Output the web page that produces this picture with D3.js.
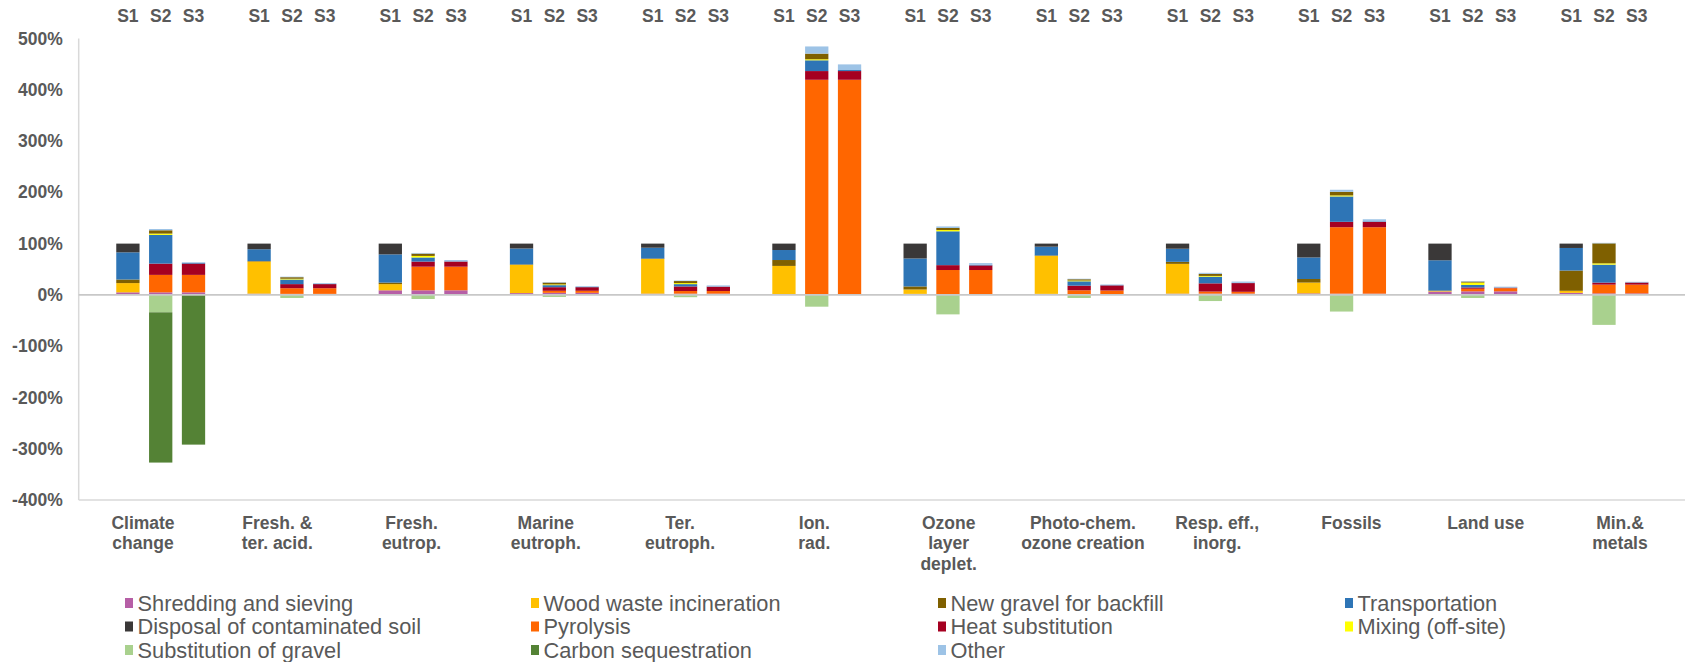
<!DOCTYPE html>
<html>
<head>
<meta charset="utf-8">
<script src="https://cdn.jsdelivr.net/npm/d3@7"></script>
<style>
  html, body { margin: 0; padding: 0; background: #fff; }
  svg { display: block; }
  text { font-family: "Liberation Sans", Arial, sans-serif; fill: #595959; }
</style>
</head>
<body>
<svg id="chart" width="1685" height="662"></svg>
<script>
// Impact categories (two or three label lines each)
const categories = [
  ["Climate", "change"],
  ["Fresh. &", "ter. acid."],
  ["Fresh.", "eutrop."],
  ["Marine", "eutroph."],
  ["Ter.", "eutroph."],
  ["Ion.", "rad."],
  ["Ozone", "layer", "deplet."],
  ["Photo-chem.", "ozone creation"],
  ["Resp. eff.,", "inorg."],
  ["Fossils"],
  ["Land use"],
  ["Min.&", "metals"]
];
const scenarios = ["S1", "S2", "S3"];
const yTicks = [-400, -300, -200, -100, 0, 100, 200, 300, 400, 500];

// Contributions in % of S1, per category as [S1, S2, S3]
const shredding = [[5,5,5],[2.5,2,2],[9,9,9],[3.5,4,4],[2.5,2.5,2.5],[0.5,0.5,0.5],[2,1.5,1.5],[2,1.5,1.5],[2.5,2.5,2.5],[3,2.5,2.5],[6.5,7,7],[4,3,3]];
const woodWaste = [[18,0,0],[62.5,0,0],[12,0,0],[55,0,0],[67.5,0,0],[56,0,0],[8.5,0,0],[74,0,0],[58,0,0],[21,0,0],[1,0,0],[4,0,0]];
const newGravel = [[7,6.5,0],[1,3,0],[3,4.5,0],[1,3.5,0],[1,4,0],[11.5,11,0],[6,4,0],[1,2.5,0],[4,4,0],[7,7,0],[1,2,0],[39.5,39,0]];
const transport = [[53,56,1.5],[23,9,0.5],[55,8,0.5],[31,4,0.5],[21,4.5,0.5],[19.5,21,2],[54.5,66,1],[17,8.5,0.5],[25.5,13,0.5],[42,49.5,1],[59,5,0.5],[44,35,0.5]];
const disposal = [[17,0,0],[11,0,0],[21,0,0],[9.5,0,0],[8,0,0],[12.5,0,0],[29,0,0],[6,0,0],[10,0,0],[27,0,0],[32.5,0,0],[8.5,0,0]];
const pyrolysis = [[0,34,34],[0,11,11],[0,46,46],[0,4,4],[0,5,5],[0,419,419],[0,47,47],[0,7.5,7],[0,4,3.5],[0,129.5,129.5],[0,5,6],[0,17,17]];
const heatSub = [[0,22,22],[0,8,8],[0,10,10],[0,7,7],[0,9,8.5],[0,17,17],[0,9.5,9],[0,9,10],[0,16,17],[0,10.5,10.5],[0,2.5,1],[0,4,4]];
const mixing = [[0,2.5,0],[0,1.5,0],[0,3,0],[0,1.5,0],[0,2,0],[0,2,0],[0,2.5,0],[0,1.5,0],[0,1.5,0],[0,2,0],[0,4.5,0],[0,2.5,0]];
const gravelSub = [[0,-34,0],[0,-6,0],[0,-8,0],[0,-4,0],[0,-4.5,0],[0,-23,0],[0,-38,0],[0,-6,0],[0,-12,0],[0,-32.5,0],[0,-6,0],[0,-58.5,0]];
const carbonSeq = [[0,-293,-292],[0,0,0],[0,0,0],[0,0,0],[0,0,0],[0,0,0],[0,0,0],[0,0,0],[0,0,0],[0,0,0],[0,0,0],[0,0,0]];
const other = [[0,2.5,1.2],[0,1,1.5],[0,1.3,2.5],[0,1,1.5],[0,1,2],[0,14,11],[0,3,3.5],[0,1,1.3],[0,2,2.5],[0,4,4],[0,1,1.5],[0,1,1]];

const series = [
  { key: "shredding", name: "Shredding and sieving",        color: "#B65FA6", values: shredding },
  { key: "woodWaste", name: "Wood waste incineration",      color: "#FFC000", values: woodWaste },
  { key: "newGravel", name: "New gravel for backfill",      color: "#7F6000", values: newGravel },
  { key: "transport", name: "Transportation",               color: "#2E75B6", values: transport },
  { key: "disposal",  name: "Disposal of contaminated soil", color: "#3A3838", values: disposal },
  { key: "pyrolysis", name: "Pyrolysis",                    color: "#FF6600", values: pyrolysis },
  { key: "heatSub",   name: "Heat substitution",            color: "#A50021", values: heatSub },
  { key: "mixing",    name: "Mixing (off-site)",            color: "#FFFF00", values: mixing },
  { key: "gravelSub", name: "Substitution of gravel",       color: "#A9D18E", values: gravelSub },
  { key: "carbonSeq", name: "Carbon sequestration",         color: "#548235", values: carbonSeq },
  { key: "other",     name: "Other",                        color: "#9DC3E6", values: other }
];

// Stacking order of the processes inside each scenario bar
const stackOrder = {
  S1: ["shredding", "woodWaste", "newGravel", "transport", "disposal", "other", "gravelSub", "carbonSeq"],
  S2: ["shredding", "pyrolysis", "heatSub", "transport", "mixing", "newGravel", "other", "gravelSub", "carbonSeq"],
  S3: ["shredding", "pyrolysis", "heatSub", "transport", "mixing", "newGravel", "other", "gravelSub", "carbonSeq"]
};

const colorOf = Object.fromEntries(series.map(s => [s.key, s.color]));

const svg = d3.select("#chart");
const plot = { left: 78.7, right: 1686, top: 38.5, bottom: 500 };

// One slot per bar, with an empty slot leading each category group
const slots = [];
categories.forEach((c, i) => {
  slots.push(`${i}-gap`);
  scenarios.forEach(s => slots.push(`${i}-${s}`));
});
slots.push("end-gap");

const x = d3.scaleBand()
  .domain(slots)
  .range([plot.left, plot.right])
  .paddingInner(0.29)
  .paddingOuter(0.145);

const y = d3.scaleLinear()
  .domain([-400, 500])
  .range([plot.bottom, plot.top]);

// Category label positions along the bottom
const xCat = d3.scalePoint()
  .domain(d3.range(categories.length))
  .range([143, 1620]);

// Rows: one per category × scenario
const rows = [];
categories.forEach((c, i) => {
  scenarios.forEach((s, j) => {
    const row = { cat: i, scen: s, slot: `${i}-${s}` };
    series.forEach(se => { row[se.key] = se.values[i][j]; });
    rows.push(row);
  });
});

// Axis frame: vertical axis line and bottom border
svg.append("line")
  .attr("x1", plot.left).attr("x2", plot.left)
  .attr("y1", plot.top).attr("y2", plot.bottom)
  .attr("stroke", "#D9D9D9").attr("stroke-width", 1.5);
svg.append("line")
  .attr("x1", plot.left).attr("x2", plot.right)
  .attr("y1", plot.bottom).attr("y2", plot.bottom)
  .attr("stroke", "#D9D9D9").attr("stroke-width", 1.5);

// Stacked bars, per scenario
const barsG = svg.append("g");
scenarios.forEach(s => {
  const sub = rows.filter(r => r.scen === s);
  const stacked = d3.stack()
    .keys(stackOrder[s])
    .offset(d3.stackOffsetDiverging)(sub);
  stacked.forEach(layer => {
    barsG.append("g")
      .attr("fill", colorOf[layer.key])
      .selectAll("rect")
      .data(layer.filter(d => d[1] !== d[0]))
      .join("rect")
      .attr("x", d => x(d.data.slot))
      .attr("width", x.bandwidth())
      .attr("y", d => y(Math.max(d[0], d[1])))
      .attr("height", d => Math.abs(y(d[0]) - y(d[1])));
  });
});

// Zero line
svg.append("line")
  .attr("x1", plot.left).attr("x2", plot.right)
  .attr("y1", y(0)).attr("y2", y(0))
  .attr("stroke", "#C8C8C8").attr("stroke-width", 1.8);

// Y axis labels
const yAxis = d3.axisLeft(y)
  .tickValues(yTicks)
  .tickFormat(d => d + "%")
  .tickSize(0)
  .tickPadding(16);
const yG = svg.append("g")
  .attr("transform", `translate(${plot.left},0)`)
  .call(yAxis);
yG.select(".domain").remove();
yG.selectAll("text")
  .attr("fill", "#595959")
  .style("font-family", "'Liberation Sans', Arial, sans-serif")
  .style("font-size", "17.5px")
  .style("font-weight", "bold");

// Scenario labels across the top
svg.append("g")
  .selectAll("text")
  .data(rows)
  .join("text")
  .attr("x", d => x(d.slot) + x.bandwidth() / 2)
  .attr("y", 22)
  .attr("text-anchor", "middle")
  .style("font-size", "17.5px")
  .style("font-weight", "bold")
  .text(d => d.scen);

// Category labels below the plot
const catG = svg.append("g")
  .selectAll("text")
  .data(categories)
  .join("text")
  .attr("x", (d, i) => xCat(i))
  .attr("y", 529)
  .attr("text-anchor", "middle")
  .style("font-size", "17.5px")
  .style("font-weight", "bold");
catG.selectAll("tspan")
  .data((d, i) => d.map(line => ({ line, i })))
  .join("tspan")
  .attr("x", d => xCat(d.i))
  .attr("dy", (d, k) => k === 0 ? 0 : 20.3)
  .text(d => d.line);

// Legend: 4 columns, row-major
const legendCols = [125, 531, 938, 1345];
const legendRows = [603, 626.5, 650];
const legend = svg.append("g")
  .selectAll("g")
  .data(series)
  .join("g")
  .attr("transform", (d, i) => `translate(${legendCols[i % 4]},${legendRows[Math.floor(i / 4)]})`);
legend.append("rect")
  .attr("x", 0).attr("y", -5)
  .attr("width", 8).attr("height", 10)
  .attr("fill", d => d.color);
legend.append("text")
  .attr("x", 12.5)
  .attr("y", 7.5)
  .style("font-size", "21.8px")
  .text(d => d.name);
</script>
</body>
</html>
